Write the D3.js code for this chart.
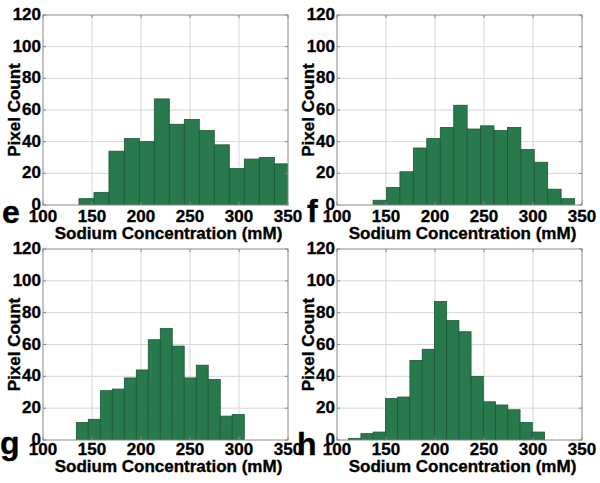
<!DOCTYPE html>
<html>
<head>
<meta charset="utf-8">
<script src="https://cdn.jsdelivr.net/npm/d3@7/dist/d3.min.js"></script>
<style>
  html, body { margin: 0; padding: 0; background: #fff; }
  svg { display: block; font-family: "Liberation Sans", Arial, sans-serif; font-weight: bold; }
  svg text { stroke: #000; stroke-width: 0.35px; paint-order: stroke; }
</style>
</head>
<body>
<svg id="chart" width="600" height="483"></svg>
<script>
// ---- data ----
const panelLetters = ["e", "f", "g", "h"];
const xTicks = [100, 150, 200, 250, 300, 350];
const yTicks = [0, 20, 40, 60, 80, 100, 120];
const xLabel = "Sodium Concentration (mM)";
const yLabel = "Pixel Count";

const binEdgesE = [136.7, 152.0, 167.3, 183.0, 198.3, 213.6, 228.9, 244.2, 259.5, 274.8, 290.1, 305.4, 320.7, 336.1, 351.4];
const countsE   = [4, 8, 34, 42, 40, 67, 51, 54, 47, 38, 23, 29, 30, 26];

const binEdgesF = [136.8, 150.5, 164.2, 177.9, 191.6, 205.4, 219.1, 232.8, 246.5, 260.2, 273.9, 287.6, 301.3, 315.0, 328.7, 342.5];
const countsF   = [3, 11, 21, 36, 42, 49, 63, 48, 50, 47, 49, 35, 27, 10, 4];

const binEdgesG = [134.0, 146.2, 158.5, 170.7, 183.0, 195.2, 207.4, 219.7, 231.9, 244.1, 256.4, 268.6, 280.9, 293.1, 305.4];
const countsG   = [11, 13, 31, 32, 39, 44, 63, 70, 59, 39, 47, 38, 15, 16];

const binEdgesH = [111.9, 124.4, 136.9, 149.4, 161.9, 174.4, 186.9, 199.4, 211.9, 224.4, 236.8, 249.3, 261.8, 274.3, 286.8, 299.3, 311.8];
const countsH   = [1, 4, 5, 26, 27, 50, 57, 87, 75, 68, 40, 24, 22, 19, 11, 5];

// ---- layout ----
const panels = [
  { letter: panelLetters[0], edges: binEdgesE, counts: countsE, x0: 43,  x1: 288, y0: 15,  y1: 205, lx: 2,   ly: 223, tickDy: 17, labDy: 34 },
  { letter: panelLetters[1], edges: binEdgesF, counts: countsF, x0: 337, x1: 582, y0: 15,  y1: 205, lx: 307, ly: 222, tickDy: 17, labDy: 34 },
  { letter: panelLetters[2], edges: binEdgesG, counts: countsG, x0: 43,  x1: 288, y0: 249, y1: 440, lx: 0,   ly: 454, tickDy: 15, labDy: 32 },
  { letter: panelLetters[3], edges: binEdgesH, counts: countsH, x0: 337, x1: 582, y0: 249, y1: 440, lx: 297, ly: 455, tickDy: 15, labDy: 32 }
];

const svg = d3.select("#chart");
const barFill = "#287a4d";
const barStroke = "#1c5737";
const gridColor = "#d6d6d6";
const boxColor = "#8a8a8a";

panels.forEach((p, pi) => {
  const x = d3.scaleLinear().domain([100, 350]).range([p.x0, p.x1]);
  const y = d3.scaleLinear().domain([0, 120]).range([p.y1, p.y0]);
  const g = svg.append("g");

  const clipId = "clip" + pi;
  g.append("clipPath").attr("id", clipId)
    .append("rect").attr("x", p.x0).attr("y", p.y0).attr("width", p.x1 - p.x0).attr("height", p.y1 - p.y0);

  // grid
  g.append("g").selectAll("line").data(xTicks.slice(1, -1)).join("line")
    .attr("x1", d => x(d)).attr("x2", d => x(d)).attr("y1", p.y0).attr("y2", p.y1)
    .attr("stroke", gridColor).attr("stroke-width", 1);
  g.append("g").selectAll("line").data(yTicks.slice(1, -1)).join("line")
    .attr("y1", d => y(d)).attr("y2", d => y(d)).attr("x1", p.x0).attr("x2", p.x1)
    .attr("stroke", gridColor).attr("stroke-width", 1);

  // bars
  const bins = p.counts.map((c, i) => ({ a: p.edges[i], b: p.edges[i + 1], c }));
  g.append("g").attr("clip-path", `url(#${clipId})`)
    .selectAll("rect").data(bins).join("rect")
    .attr("x", d => x(d.a)).attr("width", d => x(d.b) - x(d.a))
    .attr("y", d => y(d.c)).attr("height", d => y(0) - y(d.c))
    .attr("fill", barFill).attr("stroke", barStroke).attr("stroke-width", 0.8);

  // box
  g.append("rect").attr("x", p.x0).attr("y", p.y0).attr("width", p.x1 - p.x0).attr("height", p.y1 - p.y0)
    .attr("fill", "none").attr("stroke", boxColor).attr("stroke-width", 1);

  // inward ticks (all four sides)
  const tl = 3;
  g.append("g").selectAll("line").data(xTicks).join("line")
    .attr("x1", d => x(d)).attr("x2", d => x(d)).attr("y1", p.y1).attr("y2", p.y1 - tl).attr("stroke", boxColor);
  g.append("g").selectAll("line").data(xTicks).join("line")
    .attr("x1", d => x(d)).attr("x2", d => x(d)).attr("y1", p.y0).attr("y2", p.y0 + tl).attr("stroke", boxColor);
  g.append("g").selectAll("line").data(yTicks).join("line")
    .attr("y1", d => y(d)).attr("y2", d => y(d)).attr("x1", p.x0).attr("x2", p.x0 + tl).attr("stroke", boxColor);
  g.append("g").selectAll("line").data(yTicks).join("line")
    .attr("y1", d => y(d)).attr("y2", d => y(d)).attr("x1", p.x1).attr("x2", p.x1 - tl).attr("stroke", boxColor);

  // tick labels
  g.append("g").selectAll("text").data(xTicks).join("text")
    .attr("x", d => x(d)).attr("y", p.y1 + p.tickDy)
    .attr("text-anchor", "middle").attr("font-size", 17).attr("fill", "#000")
    .text(d => d);
  g.append("g").selectAll("text").data(yTicks).join("text")
    .attr("x", p.x0 - 2).attr("y", d => y(d)).attr("dy", "0.3em")
    .attr("text-anchor", "end").attr("font-size", 17).attr("fill", "#000")
    .text(d => d);

  // axis labels
  g.append("text").attr("x", (p.x0 + p.x1) / 2 + 3).attr("y", p.y1 + p.labDy)
    .attr("text-anchor", "middle").attr("font-size", 17).attr("fill", "#000").text(xLabel);
  g.append("text")
    .attr("transform", `translate(${p.x0 - 23},${(p.y0 + p.y1) / 2}) rotate(-90)`)
    .attr("text-anchor", "middle").attr("font-size", 17).attr("fill", "#000").text(yLabel);

  // panel letter
  g.append("text").attr("x", p.lx).attr("y", p.ly)
    .attr("font-size", 32).attr("fill", "#000").text(p.letter);
});
</script>
</body>
</html>
